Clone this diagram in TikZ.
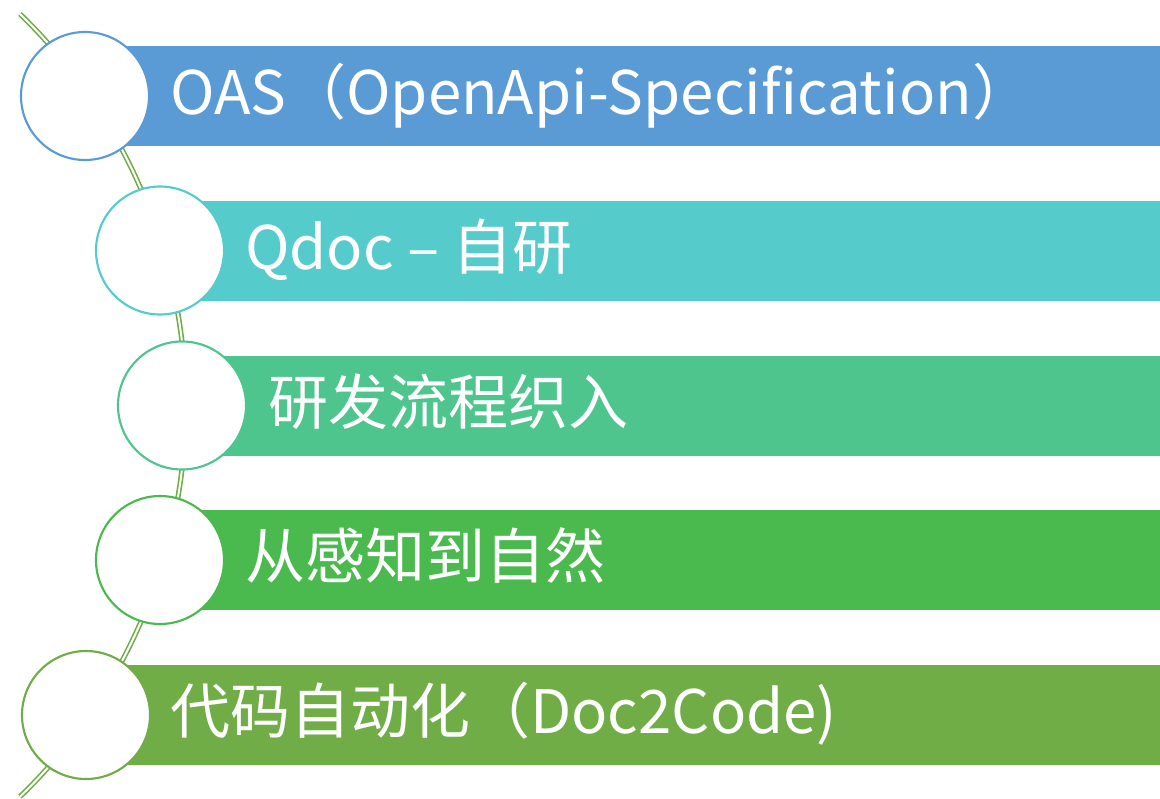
\documentclass[tikz,border=0pt]{standalone}
\usepackage{fontspec}
\setmainfont{Noto Sans CJK SC}

\definecolor{barA}{HTML}{5B9BD5}
\definecolor{barB}{HTML}{56CBCC}
\definecolor{barC}{HTML}{4FC58E}
\definecolor{barD}{HTML}{4AB94E}
\definecolor{barE}{HTML}{70AD47}

\tikzset{
	rail/.style={draw=barE, line width=1.2pt, double=white, double distance=1.5pt},
	dot/.style={circle, draw=#1, fill=white, line width=1.6pt, minimum size=96pt, inner sep=0pt},
	itemtext/.style={text=white, anchor=base west, inner sep=0pt, font=\fontsize{45}{54}\selectfont},
}

\begin{document}
\begin{tikzpicture}[x=0.75pt, y=-0.75pt]
				\useasboundingbox (0,0) rectangle (1160,799);

				% curved rail behind the list
				\coordinate (railtop) at (20,14);
				\draw[rail] (railtop) arc[start angle=45.9, end angle=-45.9, radius=408.75pt] coordinate (railbot);

				% bars
				\foreach \i/\cx/\cy/\col in {1/85/96/barA, 2/160/250.5/barB, 3/182/405.5/barC, 4/160/560/barD, 5/86/715/barE}
				\fill[\col] (\cx,\cy-50) rectangle (1160,\cy+50);

				% circles
				\node (dot1) [dot=barA] at (85,96) {};
				\node (dot2) [dot=barB] at (160,250.5) {};
				\node (dot3) [dot=barC] at (182,405.5) {};
				\node (dot4) [dot=barD] at (160,560) {};
				\node (dot5) [dot=barE] at (86,715) {};

				% texts
				\node (txt1) [itemtext] at (170,114) {OAS（OpenApi-Specification）};
				\node (txt2) [itemtext] at (245,269) {Qdoc – 自研};
				\node (txt3) [itemtext] at (268,424) {研发流程织入};
				\node (txt4) [itemtext] at (245,578) {从感知到自然};
				\node (txt5) [itemtext] at (170,733) {代码自动化（Doc2Code)};
\end{tikzpicture}
\end{document}
